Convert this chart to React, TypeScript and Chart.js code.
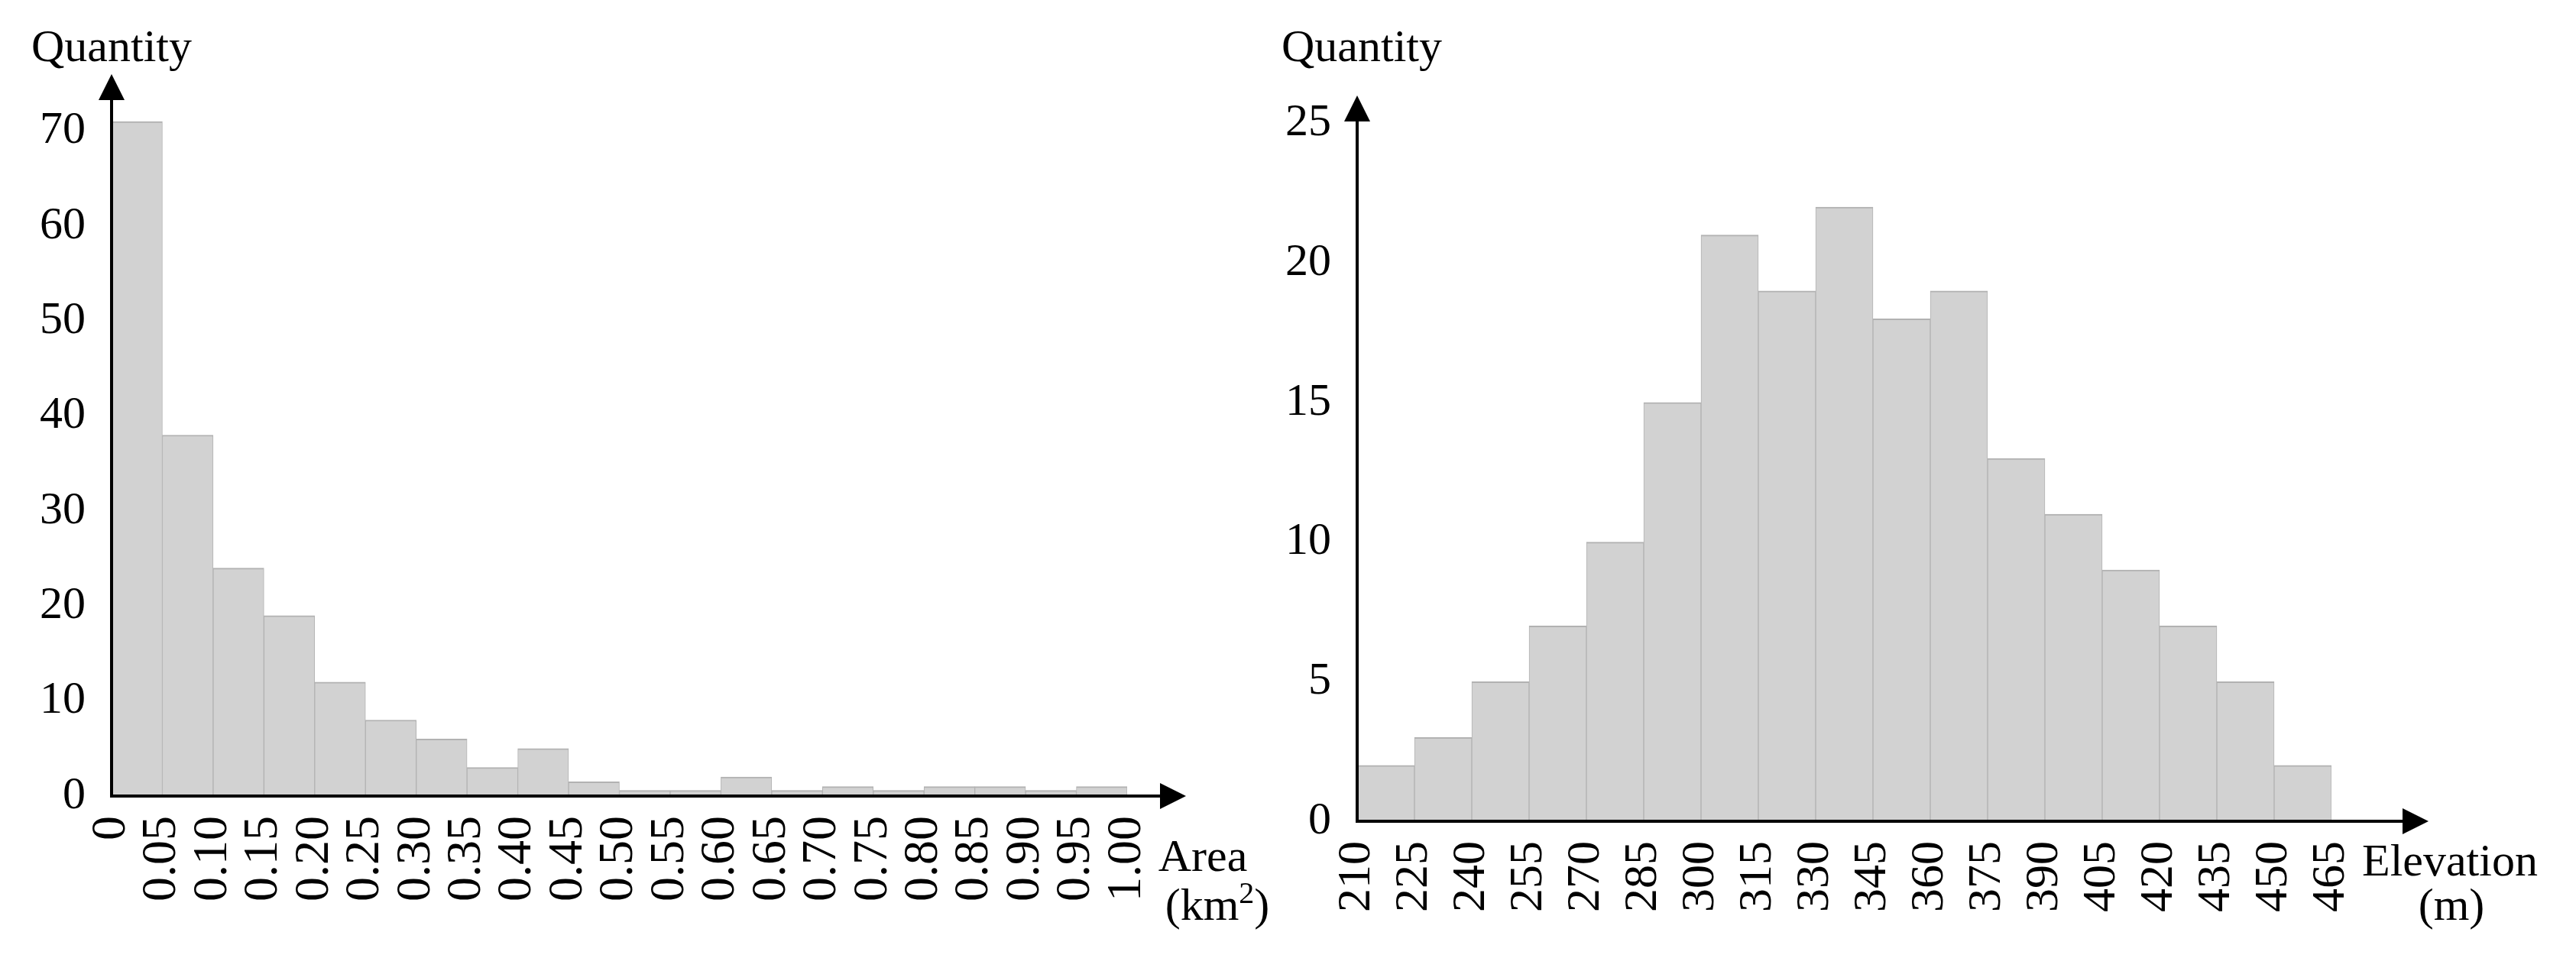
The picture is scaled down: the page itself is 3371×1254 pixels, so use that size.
import React, { useEffect, useRef } from "react";
import { Chart, registerables } from "chart.js";

Chart.register(...registerables);

// ---------- data ----------
const areaEdges = [0, 0.05, 0.1, 0.15, 0.2, 0.25, 0.3, 0.35, 0.4, 0.45, 0.5, 0.55, 0.6, 0.65, 0.7, 0.75, 0.8, 0.85, 0.9, 0.95, 1.0];
const areaTickLabels = ["0", "0.05", "0.10", "0.15", "0.20", "0.25", "0.30", "0.35", "0.40", "0.45", "0.50", "0.55", "0.60", "0.65", "0.70", "0.75", "0.80", "0.85", "0.90", "0.95", "1.00"];
const areaCounts = [71, 38, 24, 19, 12, 8, 6, 3, 5, 1.5, 0.6, 0.6, 2, 0.6, 1, 0.6, 1, 1, 0.6, 1];
const areaYTicks = [0, 10, 20, 30, 40, 50, 60, 70];

const elevationEdges = [210, 225, 240, 255, 270, 285, 300, 315, 330, 345, 360, 375, 390, 405, 420, 435, 450, 465];
const elevationTickLabels = ["210", "225", "240", "255", "270", "285", "300", "315", "330", "345", "360", "375", "390", "405", "420", "435", "450", "465"];
const elevationCounts = [2, 3, 5, 7, 10, 15, 21, 19, 22, 18, 19, 13, 11, 9, 7, 5, 2];
const elevationYTicks = [0, 5, 10, 15, 20, 25];

const FONT = '"Liberation Serif", "Times New Roman", serif';

type PanelCfg = {
  left: number;
  width: number;
  height: number;
  edges: number[];
  tickLabels: string[];
  counts: number[];
  yTicks: number[];
  yMax: number;
  padTop: number;
  padRight: number;
  yWidth: number;
  xHeight: number;
  xTipOffset: number;
  xTickFont: number;
  yTickFont: number;
  titleTop: { text: string; x: number; y: number };
  titleX: { line1: string; x1: number; y1: number; line2: string; sup?: string; x2: number; y2: number };
};

function drawArrowAxes(chart: any, cfg: PanelCfg) {
  const ctx = chart.ctx as CanvasRenderingContext2D;
  const xs = chart.scales.x;
  const ys = chart.scales.y;
  const x0 = xs.getPixelForValue(cfg.edges[0]);
  const y0 = ys.getPixelForValue(0);
  const top = chart.chartArea.top;
  const xTip = chart.chartArea.right + cfg.xTipOffset;
  const aH = 34;
  const aW = 17;
  ctx.save();
  ctx.strokeStyle = "#000";
  ctx.fillStyle = "#000";
  ctx.lineWidth = 4;
  ctx.beginPath();
  ctx.moveTo(x0, y0 + 2);
  ctx.lineTo(x0, top + aH - 2);
  ctx.moveTo(x0 - 2, y0);
  ctx.lineTo(xTip - aH + 2, y0);
  ctx.stroke();
  ctx.beginPath();
  ctx.moveTo(x0, top);
  ctx.lineTo(x0 - aW, top + aH);
  ctx.lineTo(x0 + aW, top + aH);
  ctx.closePath();
  ctx.fill();
  ctx.beginPath();
  ctx.moveTo(xTip, y0);
  ctx.lineTo(xTip - aH, y0 - aW);
  ctx.lineTo(xTip - aH, y0 + aW);
  ctx.closePath();
  ctx.fill();
  ctx.restore();
}

function drawTitles(chart: any, cfg: PanelCfg) {
  const ctx = chart.ctx as CanvasRenderingContext2D;
  ctx.save();
  ctx.fillStyle = "#000";
  ctx.textBaseline = "alphabetic";
  ctx.textAlign = "center";
  ctx.font = `60px ${FONT}`;
  ctx.fillText(cfg.titleTop.text, cfg.titleTop.x, cfg.titleTop.y);
  ctx.fillText(cfg.titleX.line1, cfg.titleX.x1, cfg.titleX.y1);
  const t = cfg.titleX;
  if (t.sup) {
    const [pre, post] = t.line2.split("^");
    ctx.font = `60px ${FONT}`;
    const wPre = ctx.measureText(pre).width;
    const wPost = ctx.measureText(post).width;
    ctx.font = `40px ${FONT}`;
    const wSup = ctx.measureText(t.sup).width;
    const total = wPre + wSup + wPost;
    let x = t.x2 - total / 2;
    ctx.textAlign = "left";
    ctx.font = `60px ${FONT}`;
    ctx.fillText(pre, x, t.y2);
    x += wPre;
    ctx.font = `40px ${FONT}`;
    ctx.fillText(t.sup, x, t.y2 - 22);
    x += wSup;
    ctx.font = `60px ${FONT}`;
    ctx.fillText(post, x, t.y2);
  } else {
    ctx.fillText(t.line2, t.x2, t.y2);
  }
  ctx.restore();
}

function Panel({ cfg }: { cfg: PanelCfg }) {
  const ref = useRef<HTMLCanvasElement | null>(null);
  useEffect(() => {
    if (!ref.current) return;
    const data = cfg.counts.map((v, i) => ({ x: (cfg.edges[i] + cfg.edges[i + 1]) / 2, y: v }));
    const chart = new Chart(ref.current, {
      type: "bar",
      data: {
        datasets: [
          {
            data: data as any,
            backgroundColor: "#d2d2d2",
            borderColor: "#b2b2b2",
            borderWidth: { top: 2, left: 1, right: 1, bottom: 0 } as any,
            borderSkipped: "start",
            barPercentage: 1,
            categoryPercentage: 1,
          },
        ],
      },
      options: {
        responsive: false,
        maintainAspectRatio: false,
        animation: false,
        events: [],
        layout: { padding: { left: 0, right: cfg.padRight, top: cfg.padTop, bottom: 0 } },
        plugins: { legend: { display: false }, tooltip: { enabled: false }, title: { display: false } },
        scales: {
          x: {
            type: "linear",
            min: cfg.edges[0],
            max: cfg.edges[cfg.edges.length - 1],
            offset: false,
            grid: { display: false },
            border: { display: false },
            afterBuildTicks: (s: any) => {
              s.ticks = cfg.edges.map((v) => ({ value: v }));
            },
            afterFit: (s: any) => {
              s.height = cfg.xHeight;
            },
            ticks: {
              autoSkip: false,
              minRotation: 90,
              maxRotation: 90,
              padding: 18,
              color: "#000",
              font: { family: FONT, size: cfg.xTickFont },
              callback: (_v: any, i: number) => cfg.tickLabels[i],
            },
          },
          y: {
            type: "linear",
            min: 0,
            max: cfg.yMax,
            grid: { display: false },
            border: { display: false },
            afterBuildTicks: (s: any) => {
              s.ticks = cfg.yTicks.map((v) => ({ value: v }));
            },
            afterFit: (s: any) => {
              s.width = cfg.yWidth;
            },
            ticks: {
              padding: 26,
              color: "#000",
              font: { family: FONT, size: cfg.yTickFont },
              callback: (v: any) => String(v),
            },
          },
        },
      },
      plugins: [
        {
          id: "arrowAxes",
          afterDatasetsDraw: (chart: any) => drawArrowAxes(chart, cfg),
          afterDraw: (chart: any) => drawTitles(chart, cfg),
        },
      ],
    });
    return () => chart.destroy();
  }, [cfg]);
  return (
    <canvas
      ref={ref}
      width={cfg.width}
      height={cfg.height}
      style={{ position: "absolute", left: cfg.left, top: 0, width: cfg.width, height: cfg.height }}
    />
  );
}

const leftCfg: PanelCfg = {
  left: 0,
  width: 1690,
  height: 1254,
  edges: areaEdges,
  tickLabels: areaTickLabels,
  counts: areaCounts,
  yTicks: areaYTicks,
  yMax: 76,
  padTop: 97,
  padRight: 215,
  yWidth: 146,
  xHeight: 212,
  xTipOffset: 77,
  xTickFont: 64,
  yTickFont: 60,
  titleTop: { text: "Quantity", x: 146, y: 80 },
  titleX: { line1: "Area", x1: 1574, y1: 1140, line2: "(km^)", sup: "2", x2: 1593, y2: 1204 },
};

const rightCfg: PanelCfg = {
  left: 1640,
  width: 1731,
  height: 1254,
  edges: elevationEdges,
  tickLabels: elevationTickLabels,
  counts: elevationCounts,
  yTicks: elevationYTicks,
  yMax: 26,
  padTop: 125,
  padRight: 320,
  yWidth: 136,
  xHeight: 179,
  xTipOffset: 127,
  xTickFont: 62,
  yTickFont: 60,
  titleTop: { text: "Quantity", x: 142, y: 80 },
  titleX: { line1: "Elevation", x1: 1566, y1: 1146, line2: "(m)", x2: 1568, y2: 1204 },
};

export default function App() {
  return (
    <div style={{ position: "absolute", left: 0, top: 0, width: 3371, height: 1254, background: "#fff" }}>
      <Panel cfg={leftCfg} />
      <Panel cfg={rightCfg} />
    </div>
  );
}
